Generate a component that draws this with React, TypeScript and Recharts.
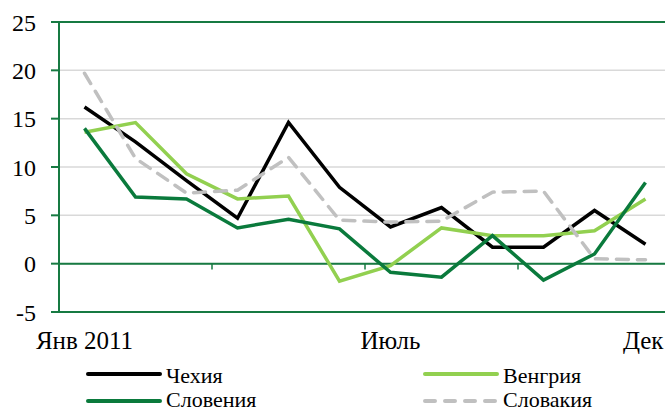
import React from "react";
import {
  LineChart,
  Line,
  XAxis,
  YAxis,
  CartesianGrid,
  ReferenceLine,
} from "recharts";

const months = ["Янв 2011", "Фев", "Мар", "Апр", "Май", "Июнь", "Июль", "Авг", "Сен", "Окт", "Ноя", "Дек"];
const shownTicks = [0, 6, 11];
const yTicks = [-5, 0, 5, 10, 15, 20, 25];

const czech = [16.2, 12.6, 8.6, 4.7, 14.6, 7.9, 3.8, 5.8, 1.7, 1.7, 5.5, 2.0];
const hungary = [13.6, 14.6, 9.3, 6.7, 7.0, -1.8, -0.2, 3.7, 2.9, 2.9, 3.4, 6.7];
const slovenia = [14.0, 6.9, 6.7, 3.7, 4.6, 3.6, -0.9, -1.4, 2.9, -1.7, 1.0, 8.4];
const slovakia = [19.7, 10.9, 7.3, 7.6, 11.0, 4.5, 4.3, 4.4, 7.4, 7.5, 0.5, 0.4];

const data = months.map((m, i) => ({
  idx: i,
  month: m,
  czech: czech[i],
  hungary: hungary[i],
  slovenia: slovenia[i],
  slovakia: slovakia[i],
}));

const AXIS_GREEN = "#177a42";
const FONT = "'Liberation Serif', 'Times New Roman', serif";

const series = [
  { key: "czech", name: "Чехия", color: "#000000", dash: undefined as string | undefined },
  { key: "hungary", name: "Венгрия", color: "#92d050", dash: undefined as string | undefined },
  { key: "slovenia", name: "Словения", color: "#0a7a3c", dash: undefined as string | undefined },
  { key: "slovakia", name: "Словакия", color: "#c0c0c0", dash: "12 9" },
];

// boundary marks between quarters on the zero axis
const quarterMarks = [2.5, 5.5, 8.5];

function MonthTick(props: any) {
  const { x, y, payload } = props;
  const isLast = payload.value === months.length - 1;
  // last label is pushed inside the frame, as in the original
  return (
    <text
      x={isLast ? x + 18 : x}
      y={y}
      dy={17}
      textAnchor={isLast ? "end" : "middle"}
      fontSize={25}
      fontFamily={FONT}
      fill="#000"
    >
      {months[payload.value]}
    </text>
  );
}

function Legend() {
  const items = [
    { s: series[0], x: 88, y: 374, ty: 383 },
    { s: series[1], x: 425, y: 374, ty: 383 },
    { s: series[2], x: 88, y: 401, ty: 407 },
    { s: series[3], x: 425, y: 401, ty: 407 },
  ];
  return (
    <svg
      width={665}
      height={412}
      style={{ position: "absolute", left: 0, top: 0, pointerEvents: "none" }}
    >
      {items.map(({ s, x, y, ty }) => (
        <g key={s.key}>
          <line
            x1={x}
            x2={x + 72}
            y1={y}
            y2={y}
            stroke={s.color}
            strokeWidth={4}
            strokeDasharray={s.dash ? "10 10" : undefined}
            strokeLinecap="round"
          />
          <text x={x + 78} y={ty} fontSize={22} fontFamily={FONT} fill="#000">
            {s.name}
          </text>
        </g>
      ))}
    </svg>
  );
}

export default function App() {
  return (
    <div
      style={{
        position: "fixed",
        left: 0,
        top: 0,
        width: 665,
        height: 412,
        overflow: "hidden",
        background: "#fff",
      }}
    >
      <LineChart
        width={672}
        height={412}
        data={data}
        margin={{ top: 22, right: 1, left: 0, bottom: 60 }}
      >
        <CartesianGrid horizontal vertical={false} stroke="#d9d9d9" strokeWidth={1.5} />
        <XAxis
          dataKey="idx"
          type="number"
          domain={[-0.5, 11.5]}
          ticks={shownTicks}
          axisLine={false}
          tickLine={false}
          tickSize={0}
          tickMargin={20}
          height={40}
          interval={0}
          tick={<MonthTick />}
        />
        <YAxis
          type="number"
          domain={[-5, 25]}
          ticks={yTicks}
          width={59}
          interval={0}
          axisLine={{ stroke: AXIS_GREEN, strokeWidth: 2 }}
          tickLine={{ stroke: AXIS_GREEN, strokeWidth: 2 }}
          tickSize={8}
          tickMargin={15}
          tick={{ fontSize: 24, fontFamily: FONT, fill: "#000" }}
        />
        <ReferenceLine y={25} stroke={AXIS_GREEN} strokeWidth={2} />
        <ReferenceLine y={-5} stroke={AXIS_GREEN} strokeWidth={2} />
        <ReferenceLine y={0} stroke={AXIS_GREEN} strokeWidth={2} />
        {quarterMarks.map((q) => (
          <ReferenceLine
            key={q}
            segment={[
              { x: q, y: 0 },
              { x: q, y: -0.6 },
            ]}
            stroke={AXIS_GREEN}
            strokeWidth={1.5}
          />
        ))}
        {series.map((s) => (
          <Line
            key={s.key}
            type="linear"
            dataKey={s.key}
            name={s.name}
            stroke={s.color}
            strokeWidth={3.5}
            strokeDasharray={s.dash}
            strokeLinecap={s.dash ? "round" : undefined}
            dot={false}
            activeDot={false}
            isAnimationActive={false}
          />
        ))}
      </LineChart>
      <Legend />
    </div>
  );
}
